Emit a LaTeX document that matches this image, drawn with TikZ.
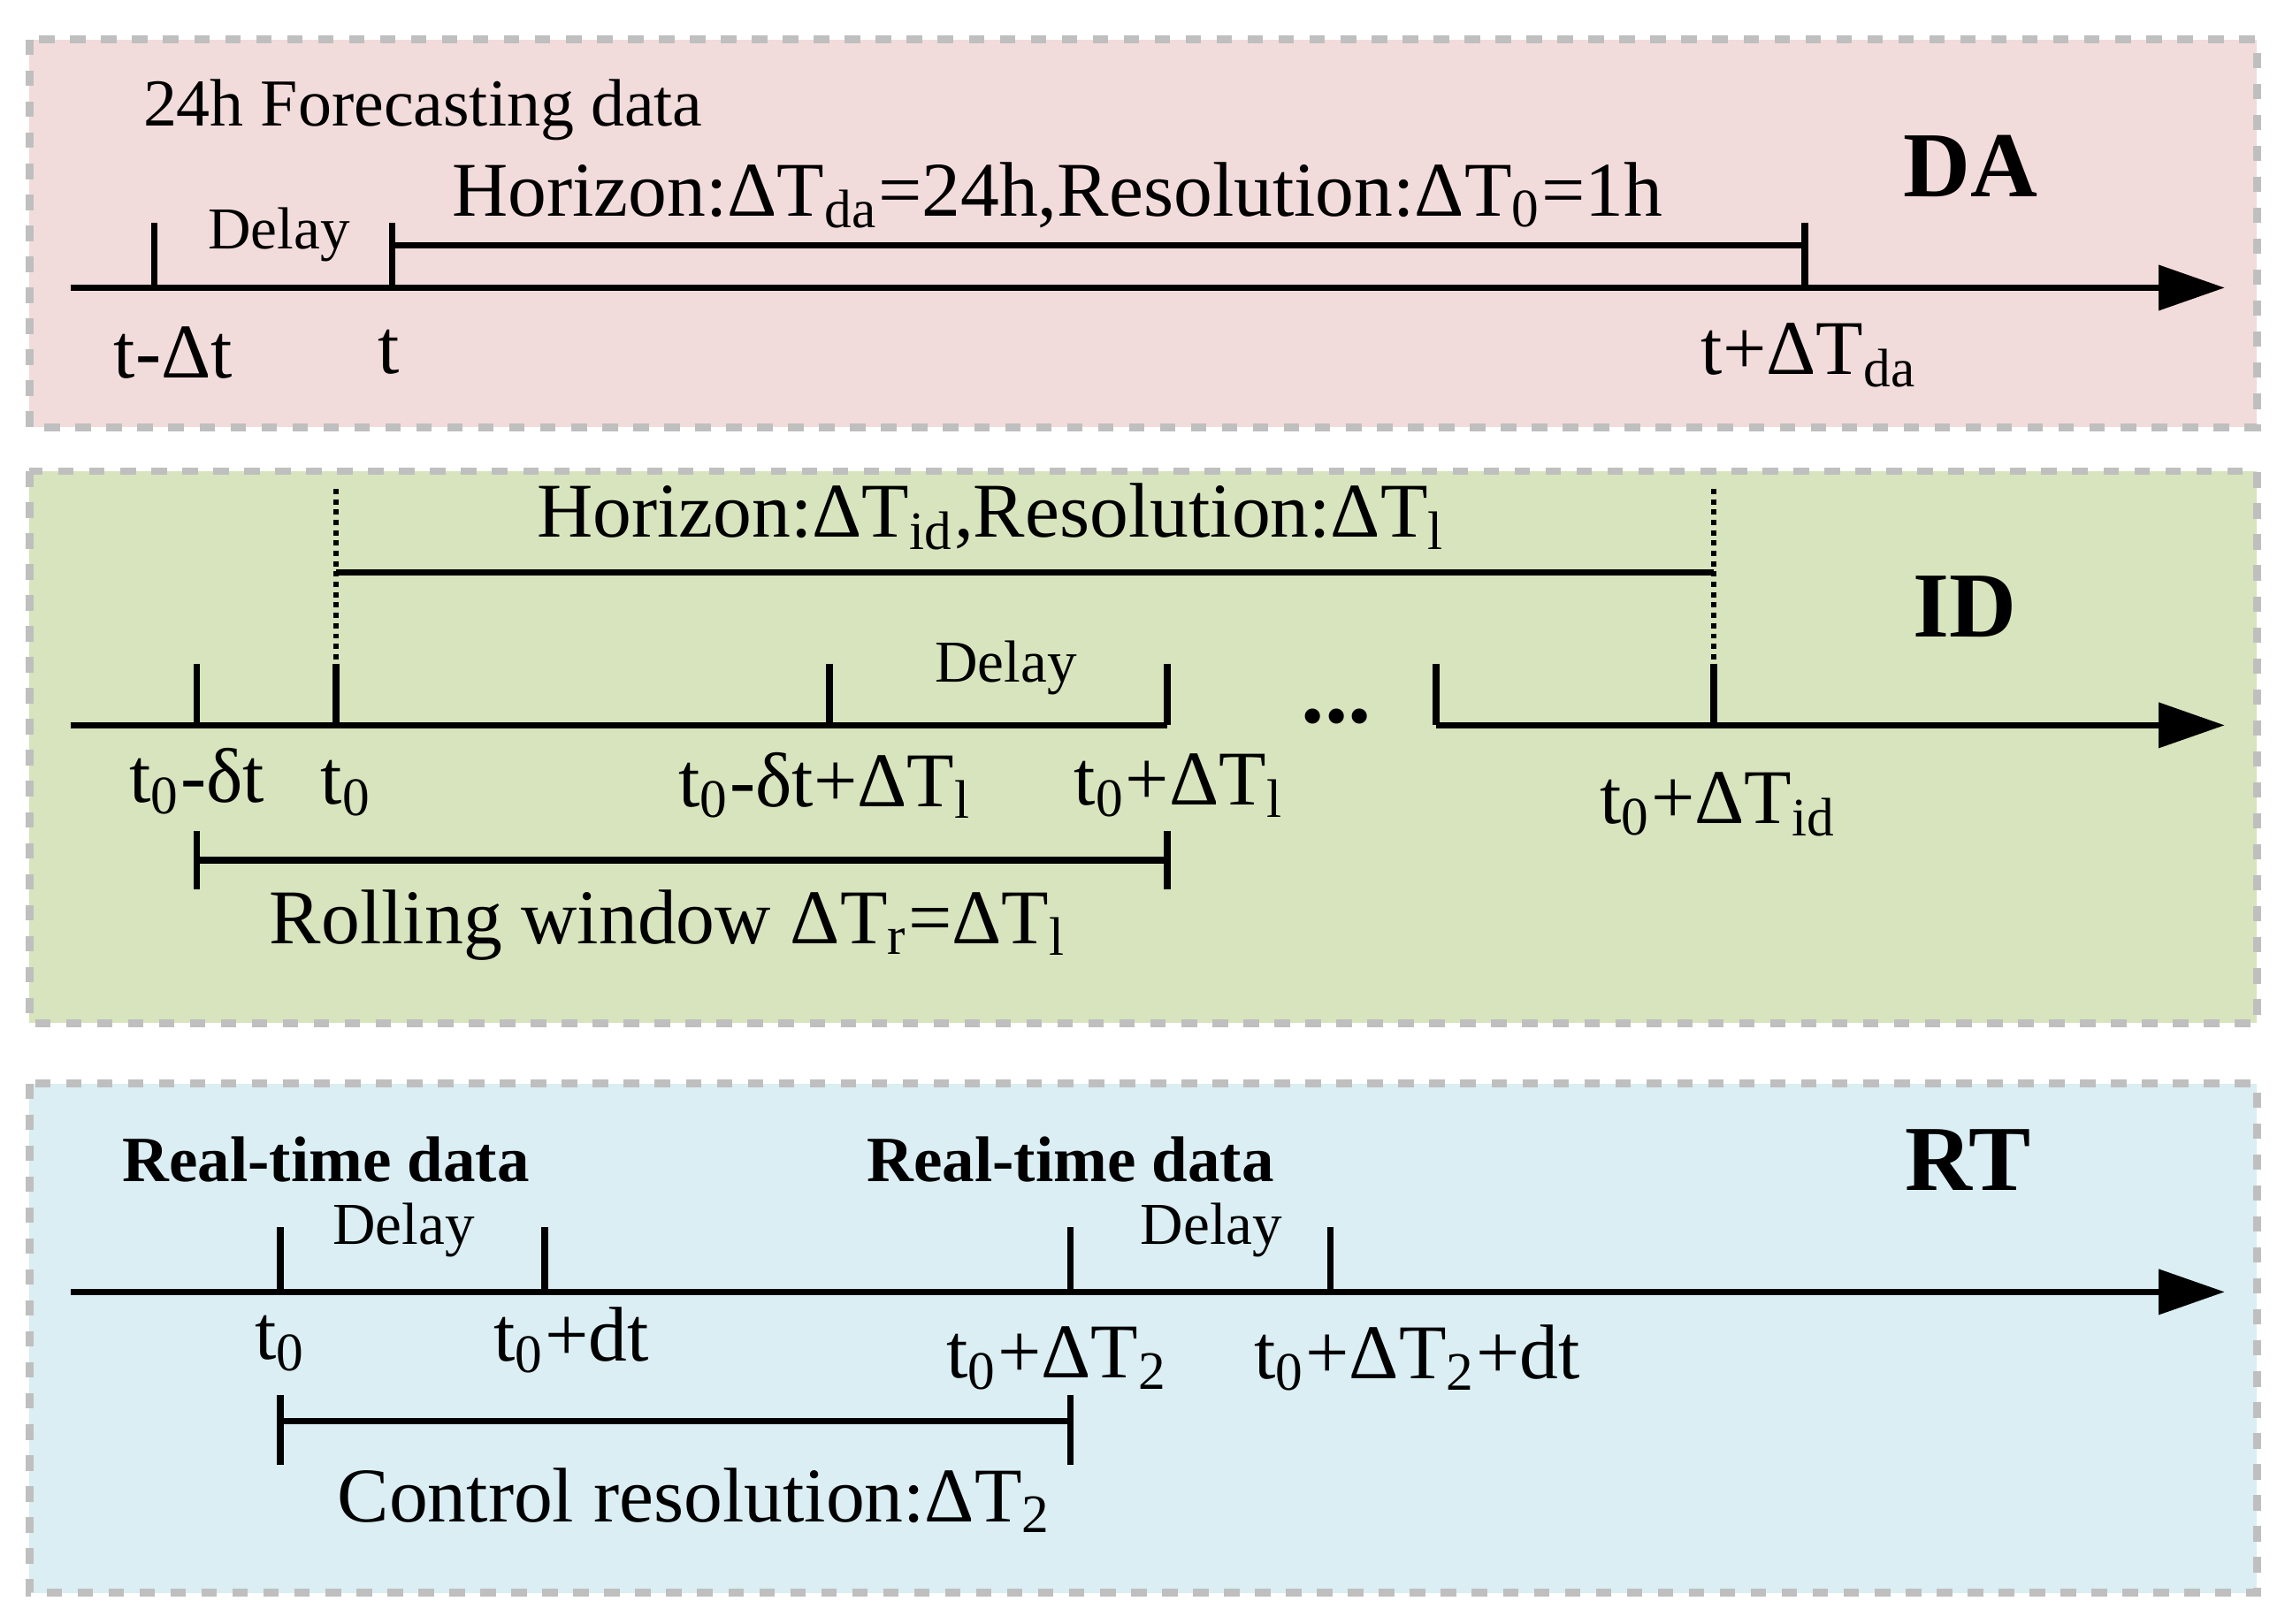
\documentclass[tikz,border=0pt]{standalone}
\usepackage{fontspec}
\setmainfont{Liberation Serif}
\usetikzlibrary{arrows.meta, positioning}
\definecolor{dapink}{RGB}{242,220,219}
\definecolor{idgreen}{RGB}{215,228,189}
\definecolor{rtblue}{RGB}{218,238,243}
\newcommand{\sub}[1]{\textsubscript{#1}}
\begin{document}
\begin{tikzpicture}[x=0.01cm, y=-0.01cm,
  panel/.style={draw=black!25, dashed, line width=1.5pt},
  axis/.style={line width=1.3pt, -{Triangle[length=0.45cm, width=0.3cm]}},
  bar/.style={line width=1.3pt},
  dots/.style={line width=1pt, densely dotted},
  lbl/.style={font=\fontsize{15}{17}\selectfont, inner sep=0pt},
  small/.style={font=\fontsize{11.5}{13}\selectfont, inner sep=0pt},
  tag/.style={font=\fontsize{18}{20}\selectfont\bfseries, inner sep=0pt},
  rtd/.style={font=\fontsize{12.5}{14}\selectfont\bfseries, inner sep=0pt}
]
  \useasboundingbox (0,0) rectangle (1556,1106);
  \fill[dapink] (20,27) rectangle (1537,291);
  \draw[panel] (20,27) rectangle (1537,291);
  \fill[idgreen] (20,321) rectangle (1537,697);
  \draw[panel] (20,321) rectangle (1537,697);
  \fill[rtblue] (20,738) rectangle (1537,1085);
  \draw[panel] (20,738) rectangle (1537,1085);

  % DA
  \coordinate (da0) at (48,196);
  \coordinate (da1) at (1515,196);
  \draw[axis] (da0) -- (da1);
  \draw[bar] (105,152) -- (105,196);
  \draw[bar] (267,152) -- (267,196);
  \draw[bar] (1229,152) -- (1229,196);
  \draw[bar] (267,167) -- (1229,167);
  \node[small, font=\fontsize{13}{15}\selectfont] (fc) at (288,75) {24h Forecasting data};
  \node[small] (dadelay) at (190,160) {Delay};
  \node[lbl] (dahor) at (720,133) {Horizon:ΔT\sub{da}=24h,Resolution:ΔT\sub{0}=1h};
  \node[tag] (da) at (1342,113) {DA};
  \node[lbl] (tdt) at (118,240) {t-Δt};
  \node[lbl] (t) at (265,240) {t};
  \node[lbl] (tda) at (1232,242) {t+ΔT\sub{da}};

  % ID
  \draw[bar] (48,494) -- (795,494);
  \draw[axis] (978,494) -- (1515,494);
  \foreach \x in {134,229,565,795,978,1167}
    \draw[bar] (\x,452) -- (\x,494);
  \draw[dots] (229,333) -- (229,452);
  \draw[dots] (1167,333) -- (1167,452);
  \draw[bar] (229,390) -- (1167,390);
  \node[lbl] (idhor) at (675,352) {Horizon:ΔT\sub{id},Resolution:ΔT\sub{l}};
  \node[small] (iddelay) at (685,455) {Delay};
  \node[lbl, font=\fontsize{18}{20}\selectfont\bfseries] (dots) at (910,488) {...};
  \node[tag] (id) at (1338,413) {ID};
  \node[lbl] (a) at (134,532) {t\sub{0}-δt};
  \node[lbl] (b) at (236,537) {t\sub{0}};
  \node[lbl] (c) at (562,535) {t\sub{0}-δt+ΔT\sub{l}};
  \node[lbl] (d) at (803,535) {t\sub{0}+ΔT\sub{l}};
  \node[lbl] (e) at (1170,548) {t\sub{0}+ΔT\sub{id}};
  \draw[bar] (134,566) -- (134,606);
  \draw[bar] (795,566) -- (795,606);
  \draw[bar] (134,586) -- (795,586);
  \node[lbl] (roll) at (455,630) {Rolling window ΔT\sub{r}=ΔT\sub{l}};

  % RT
  \draw[axis] (48,880) -- (1515,880);
  \foreach \x in {191,371,729,906}
    \draw[bar] (\x,836) -- (\x,880);
  \node[rtd] (rt1) at (222,790) {Real-time data};
  \node[rtd] (rt2) at (729,790) {Real-time data};
  \node[small] (rtd1) at (275,838) {Delay};
  \node[small] (rtd2) at (825,838) {Delay};
  \node[tag] (rt) at (1340,790) {RT};
  \node[lbl] (r0) at (191,915) {t\sub{0}};
  \node[lbl] (r1) at (389,913) {t\sub{0}+dt};
  \node[lbl] (r2) at (720,925) {t\sub{0}+ΔT\sub{2}};
  \node[lbl] (r3) at (965,925) {t\sub{0}+ΔT\sub{2}+dt};
  \draw[bar] (191,950) -- (191,998);
  \draw[bar] (729,950) -- (729,998);
  \draw[bar] (191,968) -- (729,968);
  \node[lbl] (ctrl) at (473,1022) {Control resolution:ΔT\sub{2}};
\end{tikzpicture}
\end{document}
